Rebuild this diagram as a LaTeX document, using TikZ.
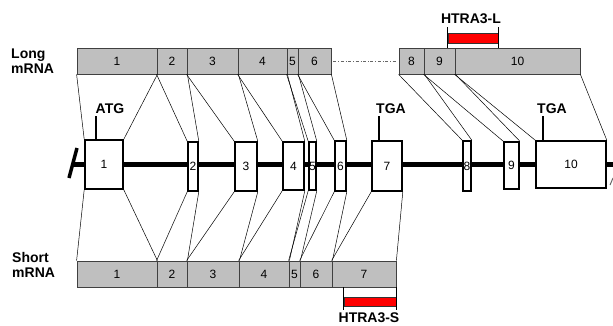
\documentclass[tikz,border=0pt]{standalone}
\usepackage{fontspec}
\setmainfont{Liberation Sans}
\usepackage{tikz}

\begin{document}
\begin{tikzpicture}[x=1pt,y=-1pt,
  mbox/.style={draw=black!75,fill=black!25,line width=0.8pt,inner sep=0pt,
    minimum height=26pt,font=\fontsize{12}{12}\selectfont},
  gbox/.style={draw,line width=1.6pt,fill=white,inner sep=0pt},
  every label/.style={inner sep=0pt,font=\fontsize{12}{12}\selectfont},
  lnk/.style={line width=0.5pt},
  lab/.style={inner sep=0pt,font=\fontsize{14}{15}\selectfont\bfseries},
  tick/.style={line width=1.2pt},
  pep/.style={draw=black!80,fill=red,line width=0.7pt,inner sep=0pt}]
 \useasboundingbox (0,0) rectangle (613,325);
 % genomic locus
 \coordinate (gstart) at (73,164);
 \coordinate (gend) at (613,164);
 \draw[line width=5pt] (gstart) -- (gend);
 \draw[line width=3.5pt] (69,178) -- (77,148);
 \draw[line width=1pt,black!60] (610,185) -- (613,178);
 \foreach \n/\a/\b/\t/\u in {1/85/123/140/189,2/188/198/142/191,3/235/257/142/191,
   4/283/304/142/190,5/309/316/142/190,6/335/346/141/191,7/372/402/141/191,
   8/463/471/141/191,9/504/519/142/189,10/536/606/141/188}
   \node[gbox,minimum width={(\b-\a)*1pt},minimum height={(\u-\t)*1pt},label=center:\n]
     (g\n) at ({(\a+\b)/2},{(\t+\u)/2}) {};
 % long and short transcripts
 \foreach \n/\a/\b in {1/77/157,2/157/187,3/187/238,4/238/287,5/287/298,6/298/331,
   8/399/424,9/424/455,10/455/580}
   \node[mbox,minimum width={(\b-\a)*1pt}] (l\n) at ({(\a+\b)/2},61) {\n};
 \foreach \n/\a/\b in {1/77/157,2/157/187,3/187/239,4/239/289,5/289/300,6/300/332,7/332/396}
   \node[mbox,minimum width={(\b-\a)*1pt}] (s\n) at ({(\a+\b)/2},274) {\n};
 \draw[black!60,dash dot,line width=0.6pt] ([xshift=2pt]l6.east) -- ([xshift=-2pt]l8.west);
 \foreach \n in {1,2,3,4,5,6,8,9,10} {
   \draw[lnk] (l\n.south west) -- (g\n.north west);
   \draw[lnk] (l\n.south east) -- (g\n.north east);
 }
 \foreach \n in {1,...,7} {
   \draw[lnk] (s\n.north west) -- (g\n.south west);
   \draw[lnk] (s\n.north east) -- (g\n.south east);
 }
 \node[lab,align=left,anchor=west] (longlab) at (11,61) {Long\\mRNA};
 \node[lab,align=left,anchor=west] (shortlab) at (12,265) {Short\\mRNA};
 % start and stop codons
 \node[lab] (atg) at (110,108.5) {ATG};
 \node[lab] (tgaa) at (391,108.5) {TGA};
 \node[lab] (tgab) at (552,108.5) {TGA};
 \coordinate (atgt) at (96,116);
 \coordinate (tgaat) at (379,116);
 \coordinate (tgabt) at (543,116);
 \draw[tick] (atgt) -- (atgt |- g1.north);
 \draw[tick] (tgaat) -- (tgaat |- g7.north);
 \draw[tick] (tgabt) -- (tgabt |- g10.north);
 % peptides
 \node[lab] (htral) at (471,18.5) {HTRA3-L};
 \node[pep,minimum width=50pt,minimum height=10pt] (pepl) at (473,38) {};
 \draw[line width=0.6pt] (pepl.west |- 0,27) -- (pepl.west |- l9.north);
 \draw[line width=0.6pt] (pepl.east |- 0,27) -- (pepl.east |- l10.north);
 \node[lab] (htras) at (369,317.5) {HTRA3-S};
 \node[pep,minimum width=52pt,minimum height=9pt] (peps) at (370,301.5) {};
 \draw[line width=0.6pt] (peps.west |- s7.south) -- (peps.west |- 0,310);
 \draw[line width=0.6pt] (peps.east |- s7.south) -- (peps.east |- 0,310);
\end{tikzpicture}
\end{document}
